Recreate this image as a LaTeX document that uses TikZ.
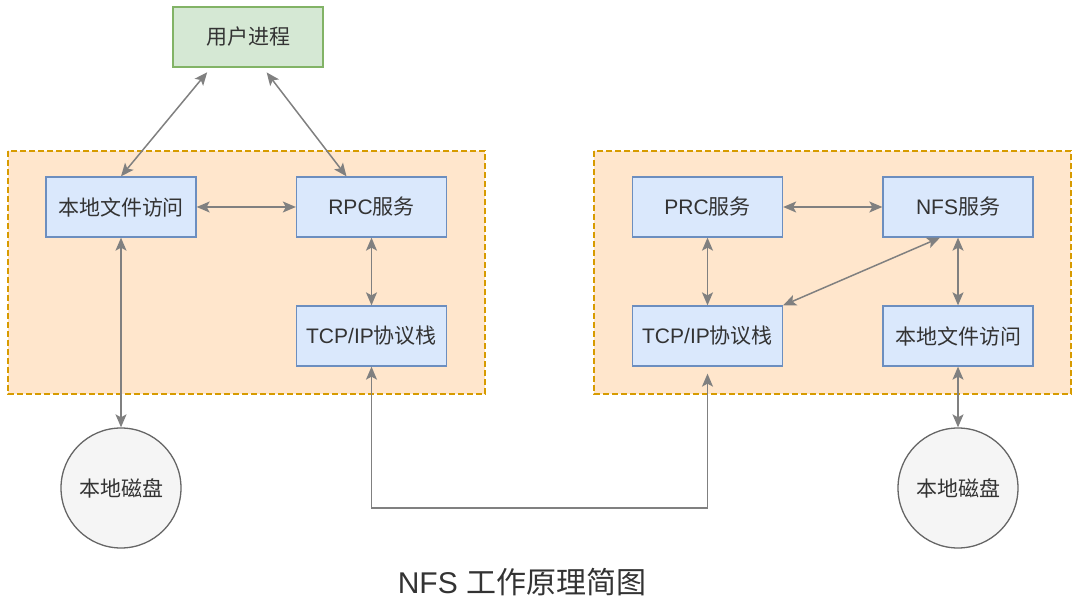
\documentclass[tikz,border=0pt]{standalone}
\usepackage{fontspec}
\setmainfont{Liberation Sans}
\newfontfamily\cjk{Noto Sans CJK SC}
\usetikzlibrary{arrows.meta}

\definecolor{txtgray}{HTML}{333333}
\definecolor{linkgray}{HTML}{808080}
\definecolor{boxfill}{HTML}{DAE8FC}
\definecolor{boxline}{HTML}{6C8EBF}
\definecolor{userfill}{HTML}{D5E8D4}
\definecolor{userline}{HTML}{82B366}
\definecolor{hostfill}{HTML}{FFE6CC}
\definecolor{hostline}{HTML}{D79B00}
\definecolor{diskfill}{HTML}{F5F5F5}
\definecolor{diskline}{HTML}{666666}

\begin{document}
\begin{tikzpicture}[x=1pt,y=-1pt,
  box/.style={draw=boxline, fill=boxfill, line width=1.3pt, minimum width=150pt,
    minimum height=60pt, inner sep=0pt, text=txtgray, font=\fontsize{21}{24}\selectfont},
  userbox/.style={box, draw=userline, fill=userfill},
  disk/.style={circle, draw=diskline, fill=diskfill, line width=1.3pt,
    minimum size=120pt, inner sep=0pt, text=txtgray, font=\fontsize{21}{24}\selectfont},
  host/.style={fill=hostfill, draw=hostline, line width=1.1pt, dash pattern=on 6pt off 3pt},
  link/.style={draw=linkgray, line width=1.5pt,
    {Stealth[length=13pt,width=11pt,inset=3pt]}-{Stealth[length=13pt,width=11pt,inset=3pt]}}]

\useasboundingbox (0,0) rectangle (1085,612);

%HOSTS
\filldraw[host] (8,151) rectangle (485,394);
\filldraw[host] (594,151) rectangle (1071,394);

%CLIENT SIDE
\node[userbox] (user) at (248,37) {{\cjk 用户进程}};
\node[box] (lfaL) at (121,207) {{\cjk 本地文件访问}};
\node[box] (rpcL) at (371.5,207) {RPC{\cjk 服务}};
\node[box] (tcpL) at (371.5,336) {TCP/IP{\cjk 协议栈}};
\node[disk] (diskL) at (121,488) {{\cjk 本地磁盘}};

%SERVER SIDE
\node[box] (rpcR) at (707.5,207) {PRC{\cjk 服务}};
\node[box] (nfsR) at (958,207) {NFS{\cjk 服务}};
\node[box] (tcpR) at (707.5,336) {TCP/IP{\cjk 协议栈}};
\node[box] (lfaR) at (958,336) {{\cjk 本地文件访问}};
\node[disk] (diskR) at (958,488) {{\cjk 本地磁盘}};

%TITLE
\node[text=txtgray, font=\fontsize{30}{35}\selectfont] (title) at (522,582) {NFS {\cjk 工作原理简图}};

%%%%%%%%%%%%%%%%%%%%
\draw[link, shorten >=6pt] (lfaL.north) -- ([xshift=-37pt]user.south);
\draw[link, shorten >=6pt] ([xshift=-25pt]rpcL.north) -- ([xshift=15pt]user.south);
\draw[link] (lfaL.east) -- (rpcL.west);
\draw[link] (rpcL.south) -- (tcpL.north);
\draw[link] (lfaL.south) -- (diskL.north);
%%%%%%%%%%%%%%%%%%%%
\draw[link] (rpcR.east) -- (nfsR.west);
\draw[link] (rpcR.south) -- (tcpR.north);
\draw[link] (nfsR.south) -- (lfaR.north);
\draw[link] ([xshift=-18pt]nfsR.south) -- (tcpR.north east);
\draw[link] (lfaR.south) -- (diskR.north);
%%%%%%%%%%%%%%%%%%%%
\draw[link, shorten >=7pt] (tcpL.south) -- (tcpL.south |- 0,508) -| (tcpR.south);
\end{tikzpicture}
\end{document}
